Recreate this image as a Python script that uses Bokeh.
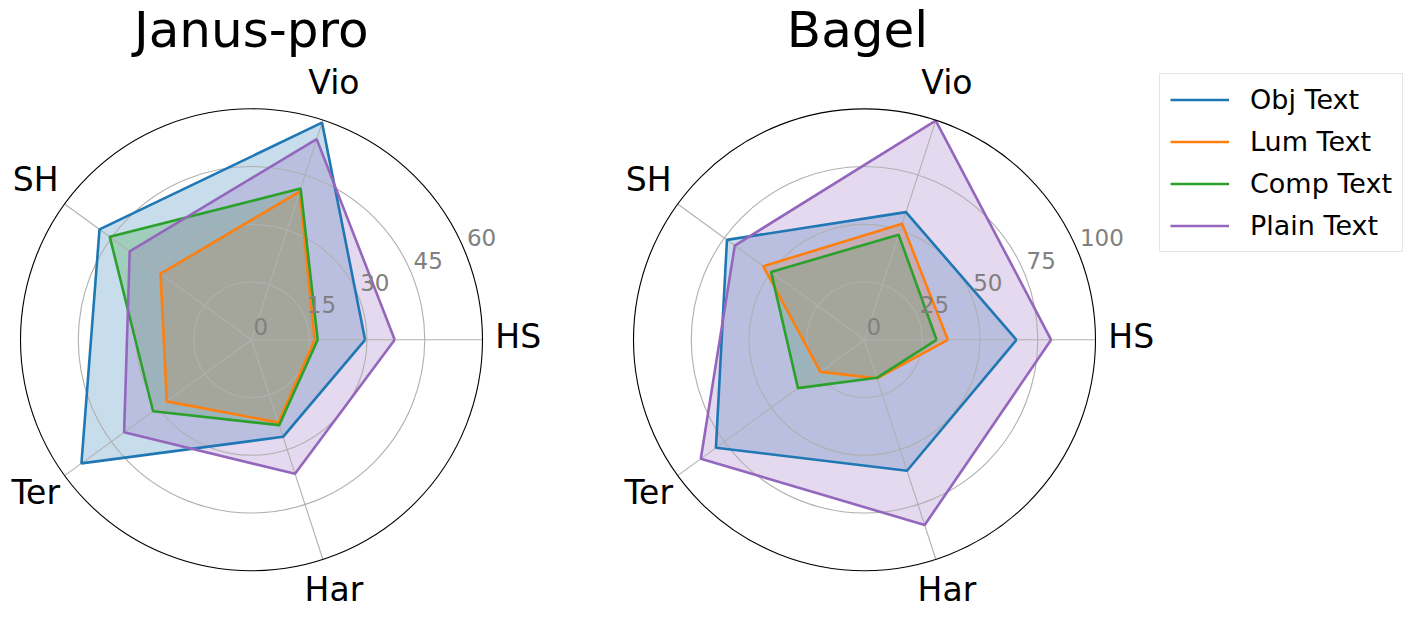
import numpy as np
from bokeh.plotting import figure
from bokeh.models import Range1d, Legend, LegendItem
from bokeh.embed import file_html
from bokeh.resources import INLINE
from bokeh.core.properties import value

# ---------------- data ----------------
categories = ["HS", "Vio", "SH", "Ter", "Har"]
series_names = ["Obj Text", "Lum Text", "Comp Text", "Plain Text"]
colors = ["#1f77b4", "#ff7f0e", "#2ca02c", "#9467bd"]

janus_obj = [29.5, 59.3, 48.8, 54.6, 26.5]
janus_lum = [16.4, 40.5, 29.2, 27.2, 22.6]
janus_comp = [17.2, 41.3, 45.5, 31.6, 23.3]
janus_plain = [37.2, 54.8, 39.1, 40.9, 36.6]

bagel_obj = [65.8, 58.1, 73.6, 79.5, 59.6]
bagel_lum = [36.1, 52.8, 54.2, 23.6, 17.5]
bagel_comp = [31.2, 47.8, 50.0, 35.6, 17.3]
bagel_plain = [80.8, 99.8, 69.4, 87.6, 84.3]

janus_ticks = [0, 15, 30, 45, 60]
bagel_ticks = [0, 25, 50, 75, 100]

titles = ["Janus-pro", "Bagel"]

# ---------------- layout ----------------
W, H = 1414, 619
PX = 231.0  # pixels per unit radius
FONT = value("DejaVu Sans")


def ux(fx):
    return fx / PX


def uy(fy):
    return (H - fy) / PX


p = figure(width=W, height=H, output_backend="svg", toolbar_location=None,
           x_range=Range1d(0, W / PX), y_range=Range1d(0, H / PX),
           min_border=0, min_border_left=0, min_border_right=0,
           min_border_top=0, min_border_bottom=0)
p.axis.visible = False
p.grid.visible = False
p.outline_line_color = None
p.background_fill_color = "white"
p.border_fill_color = "white"

angles = np.deg2rad(np.arange(len(categories)) * 360.0 / len(categories))


def radar(cx, cy, title, title_x, data, ticks):
    rmax = float(ticks[-1])
    renderers = []
    # fills
    for vals, c in zip(data, colors):
        r = np.array(vals) / rmax
        xs = cx + r * np.cos(angles)
        ys = cy + r * np.sin(angles)
        p.patch(list(xs), list(ys), fill_color=c, fill_alpha=0.25, line_color=None)
    # grid rings
    for t in ticks[1:-1]:
        p.circle(x=[cx], y=[cy], radius=t / rmax, fill_color=None,
                 line_color="#b0b0b0", line_width=1.1)
    # spokes
    p.segment(x0=[cx] * len(angles), y0=[cy] * len(angles),
              x1=list(cx + np.cos(angles)), y1=list(cy + np.sin(angles)),
              line_color="#b0b0b0", line_width=1.1)
    # lines
    for vals, c in zip(data, colors):
        r = np.array(vals + vals[:1]) / rmax
        a = np.concatenate([angles, angles[:1]])
        rr = p.line(list(cx + r * np.cos(a)), list(cy + r * np.sin(a)),
                    line_color=c, line_width=2.6)
        renderers.append(rr)
    # outer spine
    p.circle(x=[cx], y=[cy], radius=1.0, fill_color=None,
             line_color="black", line_width=1.1)
    # radial tick labels at 22.5 deg
    ta = np.deg2rad(22.5)
    tr = np.array(ticks) / rmax
    p.text(x=list(cx + tr * np.cos(ta)), y=list(cy + tr * np.sin(ta)),
           text=[str(t) for t in ticks], text_font=FONT, text_font_size="23px",
           text_color="#808080", text_align="left", text_baseline="middle",
           x_offset=2, y_offset=-13.5)
    # category labels
    lr = 266.7 / PX
    p.text(x=list(cx + lr * np.cos(angles)), y=list(cy + lr * np.sin(angles)),
           text=categories, text_font=FONT, text_font_size="33px",
           text_color="black", text_align="center", text_baseline="middle",
           y_offset=-3.6)
    # title
    p.text(x=[title_x], y=[uy(29.5)], text=[title], text_font=FONT,
           text_font_size="50px", text_color="black", text_align="center",
           text_baseline="middle")
    return renderers


radar(ux(251), uy(339.3), titles[0], ux(250.8),
      [janus_obj, janus_lum, janus_comp, janus_plain], janus_ticks)
rends = radar(ux(864), uy(339.3), titles[1], ux(857),
              [bagel_obj, bagel_lum, bagel_comp, bagel_plain], bagel_ticks)

legend = Legend(items=[LegendItem(label=n, renderers=[r]) for n, r in zip(series_names, rends)],
                location=(1159, 367), orientation="vertical",
                label_text_font="DejaVu Sans", label_text_font_size="27px",
                label_text_color="black",
                glyph_width=59, glyph_height=31, label_height=31,
                label_standoff=21, spacing=11, padding=10, margin=0,
                border_line_color="#cccccc", border_line_width=1.2,
                background_fill_color="white", background_fill_alpha=0.8)
p.add_layout(legend)

open("out.html", "w").write(file_html(p, INLINE))
